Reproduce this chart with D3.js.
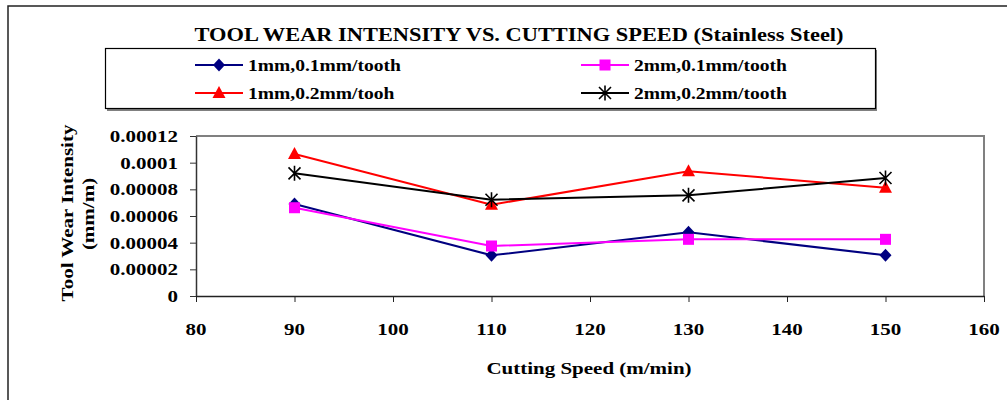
<!DOCTYPE html>
<html><head><meta charset="utf-8">
<script src="https://cdn.jsdelivr.net/npm/d3@7"></script>
<style>body{margin:0;background:#fff}svg{display:block}text{font-family:"Liberation Serif","Times New Roman",serif;font-weight:bold;fill:#000}</style>
</head><body>
<svg id="c" width="1007" height="400"></svg>
<script>
const speeds = [90, 110, 130, 150];
const s1 = [0.000069, 0.0000305, 0.0000478, 0.0000305];   // 1mm,0.1mm/tooth
const s2 = [0.0000662, 0.0000375, 0.0000425, 0.0000425];  // 2mm,0.1mm/tooth
const s3 = [0.0001065, 0.0000685, 0.0000935, 0.0000812];  // 1mm,0.2mm/tooh
const s4 = [0.000092, 0.0000722, 0.0000755, 0.0000885];   // 2mm,0.2mm/tooth
const seriesNames = ["1mm,0.1mm/tooth", "2mm,0.1mm/tooth", "1mm,0.2mm/tooh", "2mm,0.2mm/tooth"];
const yTicks = [0, 0.00002, 0.00004, 0.00006, 0.00008, 0.0001, 0.00012];
const yTickLabels = ["0", "0.00002", "0.00004", "0.00006", "0.00008", "0.0001", "0.00012"];
const xTicks = [80, 90, 100, 110, 120, 130, 140, 150, 160];

const svg = d3.select("#c");
const x = d3.scaleLinear().domain([80, 160]).range([196, 984]);
const y = d3.scaleLinear().domain([0, 0.00012]).range([296, 136]);

// stretched text helper (reference text is horizontally widened)
function label(parent, px, py, str, size, sx, anchor, rot) {
  const tr = `translate(${px},${py})` + (rot ? ` rotate(${rot})` : "") + ` scale(${sx},1)`;
  return parent.append("text").attr("transform", tr).attr("text-anchor", anchor || "start")
    .style("font-size", size + "px").text(str);
}

// outer frame
svg.append("rect").attr("x", 8).attr("y", 6).attr("width", 1010).attr("height", 410)
  .attr("fill", "none").attr("stroke", "#222").attr("stroke-width", 1.5);

// title
label(svg, 519, 41, "TOOL WEAR INTENSITY VS. CUTTING SPEED (Stainless Steel)", 19, 1.18, "middle");

// plot frame (grey top/right)
svg.append("path").attr("d", `M${x(80)},${y(0.00012)}H${x(160)}V${y(0)}`)
  .attr("fill", "none").attr("stroke", "#808080").attr("stroke-width", 2);

// axes
const yAxis = d3.axisLeft(y).tickValues(yTicks).tickSize(6).tickSizeOuter(0).tickFormat(() => "");
const gy = svg.append("g").attr("transform", `translate(${x(80)},0)`).call(yAxis);
gy.select(".domain").attr("stroke", "#333").attr("stroke-width", 1.5);
gy.selectAll(".tick line").attr("stroke", "#333");
yTicks.forEach((v, i) => {
  label(svg, x(80) - 18, y(v) + 6, yTickLabels[i], 17.5, 1.2, "end");
});

const xAxis = d3.axisBottom(x).tickValues(xTicks).tickSize(6).tickSizeOuter(0).tickFormat(() => "");
const gx = svg.append("g").attr("transform", `translate(0,${y(0)})`).call(xAxis);
gx.select(".domain").attr("stroke", "#222").attr("stroke-width", 1.5);
gx.selectAll(".tick line").attr("stroke", "#222");
xTicks.forEach(v => {
  label(svg, x(v), 335, String(v), 17.5, 1.2, "middle");
});

// axis titles
label(svg, 589, 374, "Cutting Speed (m/min)", 17.5, 1.2, "middle");
label(svg, 73, 213, "Tool Wear Intensity", 17.5, 1.2, "middle", -90);
label(svg, 94, 214, "(mm/m)", 17.5, 1.2, "middle", -90);

// markers
function marker(g, type, color) {
  if (type === "diamond") g.append("path").attr("d", "M0,-6.5L6,0L0,6.5L-6,0Z").attr("fill", color);
  else if (type === "square") g.append("rect").attr("x", -5.5).attr("y", -5.5).attr("width", 11).attr("height", 11).attr("fill", color);
  else if (type === "triangle") g.append("path").attr("d", "M0,-7L6.5,5L-6.5,5Z").attr("fill", color);
  else if (type === "star") g.append("path").attr("d", "M-6,-6L6,6M-6,6L6,-6M0,-7.5V7.5").attr("stroke", color).attr("stroke-width", 1.6).attr("fill", "none");
}

const series = [
  {vals: s1, color: "#000080", m: "diamond"},
  {vals: s2, color: "#FF00FF", m: "square"},
  {vals: s3, color: "#FF0000", m: "triangle"},
  {vals: s4, color: "#000000", m: "star"}
];
const line = d3.line().x(d => x(d[0])).y(d => y(d[1]));
series.forEach(s => {
  const pts = speeds.map((v, i) => [v, s.vals[i]]);
  svg.append("path").datum(pts).attr("d", line).attr("fill", "none")
    .attr("stroke", s.color).attr("stroke-width", 2);
});
series.forEach(s => {
  speeds.forEach((v, i) => {
    const g = svg.append("g").attr("transform", `translate(${x(v)},${y(s.vals[i])})`);
    marker(g, s.m, s.color);
  });
});

// legend
svg.append("rect").attr("x", 107).attr("y", 50).attr("width", 770).attr("height", 61).attr("fill", "#808080");
svg.append("rect").attr("x", 105.5).attr("y", 48.5).attr("width", 770).attr("height", 60)
  .attr("fill", "#fff").attr("stroke", "#000").attr("stroke-width", 1.2);
const legPos = [[195, 65], [581, 65], [195, 93], [581, 93]];
series.forEach((s, i) => {
  const [lx, ly] = legPos[i];
  svg.append("line").attr("x1", lx).attr("x2", lx + 48).attr("y1", ly).attr("y2", ly)
    .attr("stroke", s.color).attr("stroke-width", 2);
  const g = svg.append("g").attr("transform", `translate(${lx + 24},${ly})`);
  marker(g, s.m, s.color);
  label(svg, lx + 53, ly + 6, seriesNames[i], 17, 1.15, "start");
});
</script>
</body></html>
